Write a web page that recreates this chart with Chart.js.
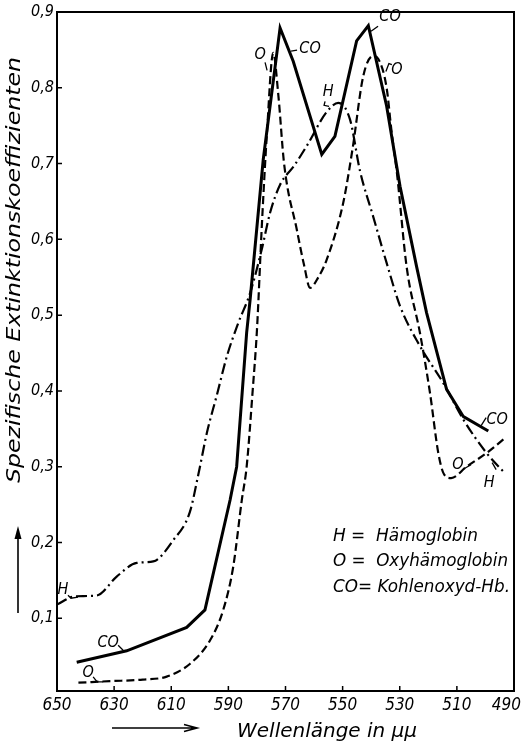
<!DOCTYPE html>
<html>
<head>
<meta charset="utf-8">
<script src="https://cdn.jsdelivr.net/npm/chart.js@4.4.1/dist/chart.umd.min.js"></script>
<style>
  html, body { margin: 0; padding: 0; background: #fff; }
  #wrap { width: 522px; height: 742px; }
</style>
</head>
<body>
<div id="wrap"><canvas id="spektrum" width="522" height="742"></canvas></div>
<script>
// Achsen
const xTicks = [650, 630, 610, 590, 570, 550, 530, 510, 490];
const yTicks = [0.1, 0.2, 0.3, 0.4, 0.5, 0.6, 0.7, 0.8, 0.9];

// H = Hämoglobin (strichpunktiert)
const hWave  = [650, 643.7, 636.1, 629.1, 622.1, 616.3, 609.3, 603.5, 600.5, 597.5, 594, 590.5, 586.5, 582.4, 578.3, 575.4, 571.9, 567, 562.6, 555.6, 551.5, 547.4, 543.9, 539.3, 534.6, 529.9, 522.9, 514.7, 507.7, 499.6, 493.1];
const hValue = [0.118, 0.129, 0.130, 0.155, 0.173, 0.175, 0.203, 0.240, 0.290, 0.345, 0.395, 0.446, 0.490, 0.529, 0.587, 0.635, 0.672, 0.697, 0.723, 0.768, 0.780, 0.758, 0.690, 0.630, 0.569, 0.512, 0.459, 0.410, 0.362, 0.318, 0.291];

// O = Oxyhämoglobin (gestrichelt)
const oWave  = [642.5, 631.4, 620, 611.6, 603.4, 596.4, 591.8, 588.3, 585.3, 583.6, 581.5, 580, 578.3, 576.5, 574.3, 572.5, 570.5, 566, 563.5, 561.4, 558.5, 555.6, 549.8, 546.5, 542.8, 539.3, 537.5, 534.6, 532.8, 531, 527.6, 522.9, 519.4, 516.5, 514.5, 512, 506.6, 499.6, 493.1];
const oValue = [0.015, 0.017, 0.019, 0.023, 0.040, 0.071, 0.111, 0.168, 0.256, 0.300, 0.400, 0.480, 0.617, 0.740, 0.846, 0.790, 0.700, 0.612, 0.566, 0.536, 0.550, 0.573, 0.648, 0.720, 0.815, 0.842, 0.838, 0.800, 0.740, 0.688, 0.564, 0.476, 0.397, 0.318, 0.290, 0.285, 0.300, 0.318, 0.338];

// CO = Kohlenoxyd-Hb. (ausgezogen)
const coWave  = [643.1, 625.6, 604.6, 598.2, 589.4, 587.1, 583.6, 582.4, 577.8, 571.9, 567.3, 557.3, 552.7, 545.1, 541.0, 534.6, 529.9, 524.1, 520.6, 513.6, 507.7, 499.0];
const coValue = [0.042, 0.057, 0.088, 0.111, 0.256, 0.300, 0.477, 0.520, 0.705, 0.879, 0.835, 0.712, 0.736, 0.862, 0.882, 0.776, 0.670, 0.564, 0.503, 0.402, 0.366, 0.347];

// Beschriftungen an den Kurven (Wellenlänge, Wert) mit kleinem Hinweisstrich (Pixelversatz)
const curveLabels = [
  { text: 'O',  nm: 578.9, v: 0.844,  lead: [[5, 8], [7, 16]] },
  { text: 'CO', nm: 561.4, v: 0.851,  lead: [[-19, 2], [-13, 1]] },
  { text: 'CO', nm: 533.4, v: 0.893,  lead: [[-19, 14], [-12, 9]] },
  { text: 'O',  nm: 531.0, v: 0.824,  lead: [[-11, 2], [-8, -6], [-5, -5]] },
  { text: 'H',  nm: 555.1, v: 0.794,  lead: [[-3, 9], [-4, 13], [1, 14]] },
  { text: 'CO', nm: 495.9, v: 0.362,  lead: [[-16, 6], [-11, -2]] },
  { text: 'O',  nm: 509.6, v: 0.3025, lead: [[6, 4], [13, 0]] },
  { text: 'H',  nm: 498.7, v: 0.279,  lead: [[3, -20], [7, -13]] },
  { text: 'H',  nm: 647.9, v: 0.137,  lead: [[5, 5], [8, 8], [15, 7]] },
  { text: 'CO', nm: 632.1, v: 0.067,  lead: [[10, 2], [15, 7]] },
  { text: 'O',  nm: 639.1, v: 0.028,  lead: [[5, 4], [9, 9], [15, 9]] }
];

const legendLines = ['H =  Hämoglobin', 'O =  Oxyhämoglobin', 'CO= Kohlenoxyd-Hb.'];

const FAMILY = '"DejaVu Sans Condensed", "DejaVu Sans", sans-serif';

function pts(xs, ys) {
  return xs.map((x, i) => ({ x, y: ys[i] }));
}

function komma(v) {
  return v.toFixed(1).replace('.', ',');
}

// Text auf eine Zielbreite strecken
function fitText(ctx, s, x, y, width) {
  const w = ctx.measureText(s).width;
  ctx.save();
  ctx.translate(x, y);
  ctx.scale(width / w, 1);
  ctx.fillText(s, 0, 0);
  ctx.restore();
}

const decor = {
  id: 'decor',
  afterDraw(chart) {
    const { ctx, chartArea: a } = chart;
    const sx = chart.scales.x, sy = chart.scales.y;
    ctx.save();
    ctx.strokeStyle = '#000';
    ctx.fillStyle = '#000';

    // Rahmen
    ctx.lineWidth = 2;
    ctx.strokeRect(a.left, a.top, a.right - a.left, a.bottom - a.top);

    // Teilstriche nach innen
    ctx.lineWidth = 1.5;
    ctx.beginPath();
    sx.ticks.forEach(t => {
      const px = sx.getPixelForValue(t.value);
      ctx.moveTo(px, a.bottom); ctx.lineTo(px, a.bottom - 5);
    });
    sy.ticks.forEach(t => {
      const py = sy.getPixelForValue(t.value);
      ctx.moveTo(a.left, py); ctx.lineTo(a.left + 5, py);
    });
    ctx.stroke();

    // x-Beschriftung
    ctx.font = 'italic 17px ' + FAMILY;
    ctx.textBaseline = 'middle';
    ctx.textAlign = 'center';
    sx.ticks.forEach(t => {
      const px = sx.getPixelForValue(t.value);
      const s = String(t.value);
      const w = ctx.measureText(s).width;
      const cx = Math.min(px, chart.width - 1 - w / 2);
      ctx.fillText(s, cx, a.bottom + 15);
    });

    // Achsentitel x
    ctx.font = 'italic 20px ' + FAMILY;
    ctx.textAlign = 'left';
    fitText(ctx, 'Wellenlänge in μμ', 237, 732, 180);

    // Pfeil unter der x-Achse
    ctx.lineWidth = 1.6;
    ctx.beginPath();
    ctx.moveTo(112, 728); ctx.lineTo(196, 728);
    ctx.moveTo(184, 724.5); ctx.lineTo(197, 728); ctx.lineTo(184, 731.5);
    ctx.stroke();

    // Pfeil an der y-Achse
    ctx.beginPath();
    ctx.moveTo(18, 613); ctx.lineTo(18, 530);
    ctx.stroke();
    ctx.beginPath();
    ctx.moveTo(18, 526); ctx.lineTo(14.5, 539); ctx.lineTo(21.5, 539); ctx.closePath();
    ctx.fill();

    // Achsentitel y
    ctx.save();
    ctx.translate(15, 270);
    ctx.rotate(-Math.PI / 2);
    ctx.font = 'italic 19px ' + FAMILY;
    ctx.textAlign = 'center';
    fitText(ctx, 'Spezifische Extinktionskoeffizienten', 0, 0, 426);
    ctx.restore();

    // Kurvenbeschriftungen
    ctx.font = 'italic 16px ' + FAMILY;
    ctx.textAlign = 'center';
    ctx.lineWidth = 1.3;
    curveLabels.forEach(l => {
      const lx = sx.getPixelForValue(l.nm), ly = sy.getPixelForValue(l.v);
      ctx.fillText(l.text, lx, ly);
      ctx.beginPath();
      l.lead.forEach(([dx, dy], i) => {
        if (i === 0) ctx.moveTo(lx + dx, ly + dy); else ctx.lineTo(lx + dx, ly + dy);
      });
      ctx.stroke();
    });

    // Legende
    ctx.font = 'italic 18px ' + FAMILY;
    ctx.textAlign = 'left';
    const widths = [145, 175, 177];
    legendLines.forEach((s, i) => {
      fitText(ctx, s, 333, 536 + i * 25.5, widths[i]);
    });

    ctx.restore();
  }
};

const cfg = {
  type: 'line',
  data: {
    datasets: [
      {
        label: 'H',
        data: pts(hWave, hValue),
        borderColor: '#000',
        borderWidth: 2.2,
        borderDash: [11, 4, 2, 4],
        cubicInterpolationMode: 'monotone',
        pointRadius: 0,
        fill: false
      },
      {
        label: 'O',
        data: pts(oWave, oValue),
        borderColor: '#000',
        borderWidth: 2.2,
        borderDash: [8, 4],
        cubicInterpolationMode: 'monotone',
        pointRadius: 0,
        fill: false
      },
      {
        label: 'CO',
        data: pts(coWave, coValue),
        borderColor: '#000',
        borderWidth: 3,
        tension: 0,
        pointRadius: 0,
        fill: false
      }
    ]
  },
  options: {
    responsive: false,
    animation: false,
    devicePixelRatio: 1,
    layout: { padding: { top: 12, right: 8, left: 0, bottom: 0 } },
    plugins: {
      legend: { display: false },
      tooltip: { enabled: false }
    },
    scales: {
      x: {
        type: 'linear',
        reverse: true,
        min: 490,
        max: 650,
        afterBuildTicks: s => { s.ticks = xTicks.map(v => ({ value: v })); },
        afterFit: s => { s.height = 51; s.paddingLeft = 0; s.paddingRight = 0; },
        ticks: { display: false },
        grid: { display: false },
        border: { display: false }
      },
      y: {
        type: 'linear',
        min: 0.004,
        max: 0.9,
        afterBuildTicks: s => { s.ticks = yTicks.map(v => ({ value: v })); },
        afterFit: s => { s.width = 57; s.paddingTop = 0; s.paddingBottom = 0; },
        ticks: {
          padding: 3,
          color: '#000',
          font: { family: FAMILY, size: 16, style: 'italic' },
          callback: v => komma(v)
        },
        grid: { display: false, drawTicks: false },
        border: { display: false }
      }
    }
  },
  plugins: [decor]
};

new Chart(document.getElementById('spektrum'), cfg);
</script>
</body>
</html>
